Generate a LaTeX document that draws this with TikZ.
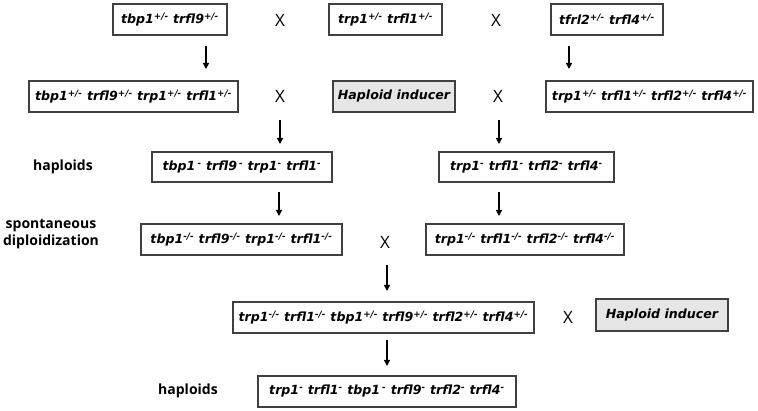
\documentclass[tikz,border=0pt]{standalone}
\usepackage{fontspec}
\setmainfont{Open Sans}
\newfontfamily\boxfont{DejaVu Sans}
\usetikzlibrary{arrows.meta}
\newcommand\gHet{\textsuperscript{+/-}}
\newcommand\gHom{\textsuperscript{-/-}}
\newcommand\gHap{\textsuperscript{-}}
\definecolor{boxline}{HTML}{404040}
\definecolor{hifill}{HTML}{E6E6E6}
\begin{document}
\begin{tikzpicture}[x=1pt,y=-1pt,
  gbox/.style={draw=boxline,line width=1.1pt,inner sep=0pt,minimum height=31pt,
    font=\boxfont\fontsize{12.6}{13}\selectfont\bfseries\itshape},
  hibox/.style={gbox,fill=hifill},
  cross/.style={font=\fontsize{17}{18}\selectfont,inner sep=0pt},
  lbl/.style={font=\fontsize{14}{16.5}\selectfont\bfseries,align=center,inner sep=0pt},
  arr/.style={line width=1.3pt,-{Triangle[length=6pt,width=6pt]}}]
\useasboundingbox (0,0) rectangle (758,411);
% row 1
\node[gbox,minimum width=114pt] (A) at (170,19.5) {tbp1\gHet{} trfl9\gHet};
\node[cross] (x1) at (280,20) {X};
\node[gbox,minimum width=113pt] (B) at (385.5,19.5) {trp1\gHet{} trfl1\gHet};
\node[cross] (x2) at (496,20) {X};
\node[gbox,minimum width=112pt] (C) at (607,19.5) {tfrl2\gHet{} trfl4\gHet};
% row 2
\node[gbox,minimum width=209pt] (D) at (133.5,96.5) {tbp1\gHet{} trfl9\gHet{} trp1\gHet{} trfl1\gHet};
\node[cross] (x3) at (280,96) {X};
\node[hibox,minimum width=122pt] (HI1) at (394,96.5) {Haploid inducer};
\node[cross] (x4) at (498,96) {X};
\node[gbox,minimum width=207pt] (E) at (649.5,96.5) {trp1\gHet{} trfl1\gHet{} trfl2\gHet{} trfl4\gHet};
% row 3
\node[lbl] (l1) at (63,167) {haploids};
\node[gbox,minimum width=180pt,minimum height=30pt] (F) at (242,167) {tbp1\,\gHap{} trfl9\,\gHap{} trp1\gHap{} trfl1\gHap};
\node[gbox,minimum width=175pt,minimum height=30pt] (G) at (526.5,167) {trp1\gHap{} trfl1\gHap{} trfl2\gHap{} trfl4\gHap};
% row 4
\node[lbl] (l2) at (51,234) {spontaneous\\diploidization};
\node[gbox,minimum width=201pt] (H) at (241.5,239.5) {tbp1\gHom{} trfl9\gHom{} trp1\gHom{} trfl1\gHom};
\node[cross] (x5) at (385,242) {X};
\node[gbox,minimum width=198pt] (I) at (525,239.5) {trp1\gHom{} trfl1\gHom{} trfl2\gHom{} trfl4\gHom};
% row 5
\node[gbox,minimum width=301pt] (J) at (383.5,317.5) {trp1\gHom{} trfl1\gHom{} tbp1\gHet{} trfl9\gHet{} trfl2\gHet{} trfl4\gHet};
\node[cross] (x6) at (568,317) {X};
\node[hibox,minimum width=132pt,minimum height=32pt] (HI2) at (662,315) {Haploid inducer};
% row 6
\node[lbl] (l3) at (188,391) {haploids};
\node[gbox,minimum width=258pt] (K) at (387,391.5) {trp1\gHap{} trfl1\gHap{} tbp1\,\gHap{} trfl9\gHap{} trfl2\gHap{} trfl4\gHap};
% arrow end points
\coordinate (a1s) at (206,46); \coordinate (a1e) at (206,69);
\coordinate (a2s) at (569,46); \coordinate (a2e) at (569,69);
\coordinate (a3s) at (280,120); \coordinate (a3e) at (280,144);
\coordinate (a4s) at (499,120); \coordinate (a4e) at (499,144);
\coordinate (a5s) at (279,192); \coordinate (a5e) at (279,216);
\coordinate (a6s) at (499,192); \coordinate (a6e) at (499,216);
\coordinate (a7s) at (387,265); \coordinate (a7e) at (387,291);
\coordinate (a8s) at (387,340); \coordinate (a8e) at (387,366);
\foreach \i in {1,...,8} \draw[arr] (a\i s) -- (a\i e);
\end{tikzpicture}
\end{document}
